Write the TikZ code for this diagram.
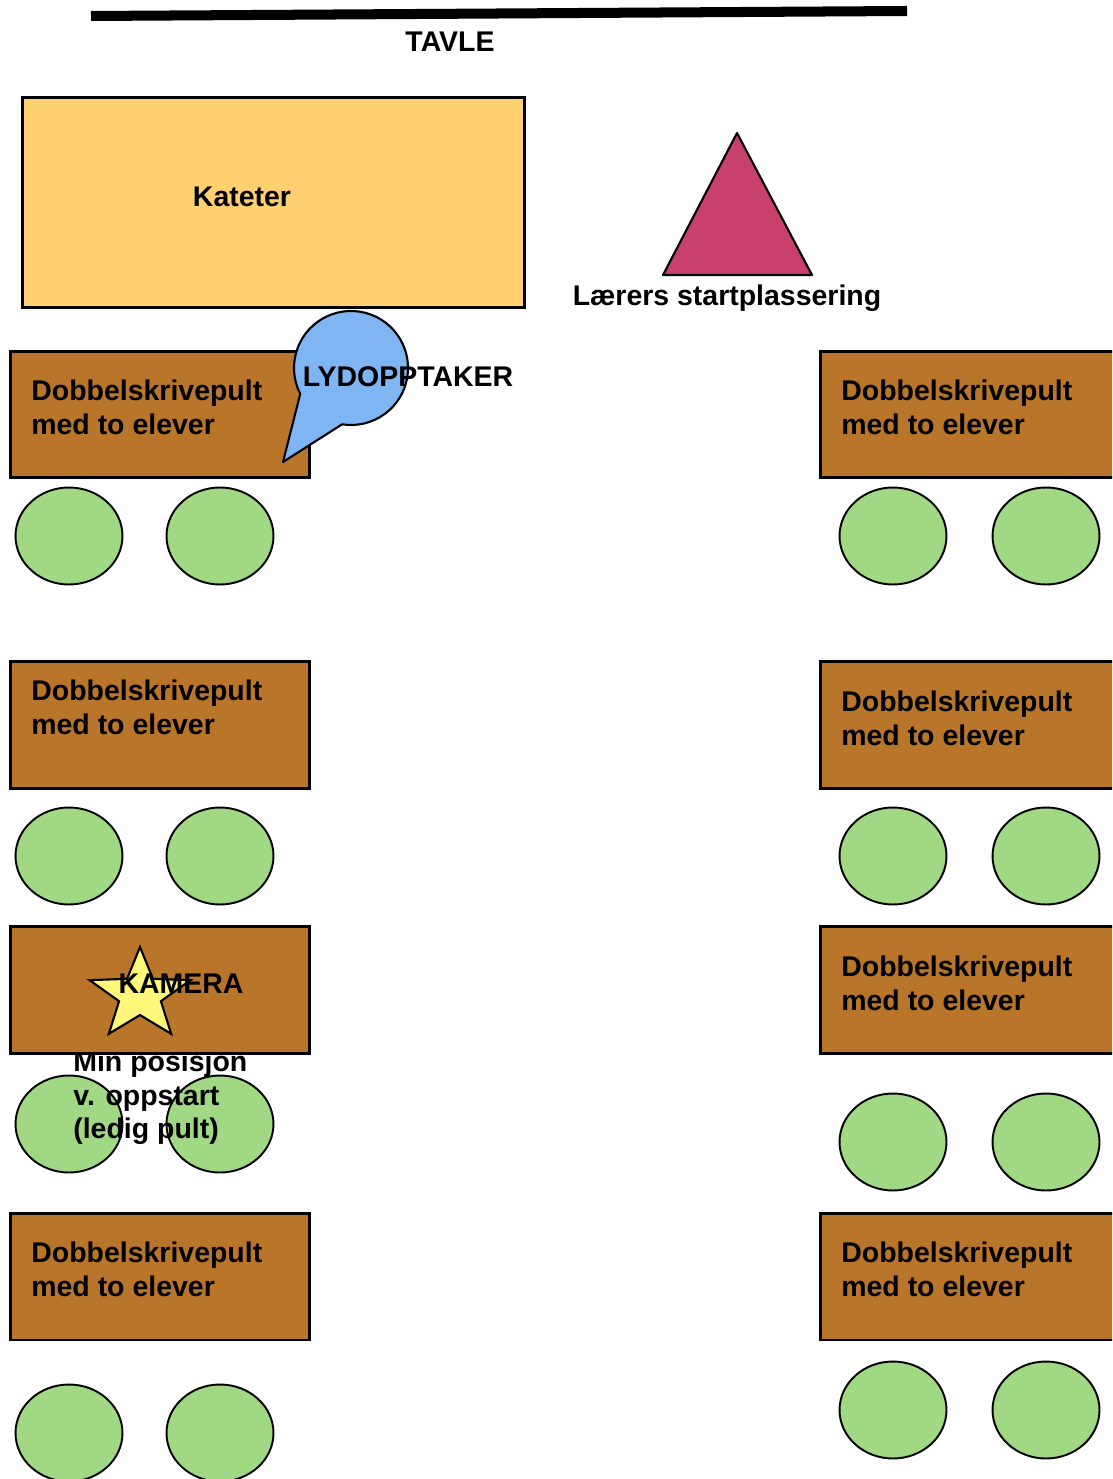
\documentclass[tikz,border=0pt]{standalone}
\usepackage{fontspec}
\setmainfont{Liberation Sans}
\usepackage{tikz}
\usetikzlibrary{shapes.geometric}
\definecolor{kat}{HTML}{FFD06F}
\definecolor{brun}{HTML}{B97529}
\definecolor{gronn}{HTML}{A1D884}
\definecolor{rosa}{HTML}{C8416C}
\definecolor{blaa}{HTML}{7FB5F3}
\definecolor{gul}{HTML}{FFF77A}
\tikzset{
  pult/.style={draw=black,line width=1.7pt,fill=brun,minimum width=6cm,minimum height=2.54cm,inner sep=0pt},
  stol/.style={ellipse,draw=black,line width=1.1pt,fill=gronn,minimum width=2.14cm,minimum height=1.94cm,inner sep=0pt},
  txt/.style={font=\bfseries\fontsize{16.2}{19}\selectfont,inner sep=0pt,align=left},
}

\begin{document}
\begin{tikzpicture}[x=0.02cm,y=-0.02cm]
\useasboundingbox (0,0) rectangle (1112,1479);
\clip (0,0) rectangle (1112,1479);
\draw[line width=5.7pt] (91,16) -- (907,11);
\node[txt] (tavle) at (450,42) {TAVLE};
\node[draw=black,line width=1.7pt,fill=kat,minimum width=10.06cm,minimum height=4.22cm] (kateter) at (273.5,202.5) {};
\node[txt] (katetertxt) at (242,197) {Kateter};
\draw[line width=1.2pt,fill=rosa,line join=round] (737,133) -- (812,275) -- (663,275) -- cycle;
\node[txt] (laerer) at (727,298) {Lærers startplassering};
\foreach \n/\yv/\yh in {1/536/536,2/856/856,3/1124/1142,4/1433/1410} {
  \node[stol] (sVa\n) at (69,\yv) {};
  \node[stol] (sVb\n) at (220,\yv) {};
  \node[stol] (sHa\n) at (893,\yh) {};
  \node[stol] (sHb\n) at (1046,\yh) {};
}
\node[txt,anchor=north west] (minpos) at (73,1051) {Min posisjon\\v. oppstart\\(ledig pult)};
\foreach \n/\y in {1/414.5,2/725,3/990,4/1276.5} {
  \node[pult] (pV\n) at (160,\y) {};
  \node[pult,minimum width=6.4cm] (pH\n) at (980,\y) {};
}
\foreach \nm/\x/\y in {tV1/31/380,tH1/841/380,tV2/31/680,tH2/841/691,tH3/841/956,tV4/31/1242,tH4/841/1242}
  \node[txt,anchor=north west] (\nm) at (\x,\y) {Dobbelskrivepult\\med to elever};
\draw[line width=1.2pt,fill=blaa,line join=round] (283,462) -- (342.1,424.3) arc[start angle=99,end angle=-207,radius=57] -- cycle;
\node[txt] (lyd) at (408,377) {LYDOPPTAKER};
\begin{scope}[shift={(140,995)}]
\draw[line width=1.2pt,fill=gul,line join=miter] (-90:53 and 48) -- (-54:22 and 20) -- (-18:53 and 48) -- (18:22 and 20) -- (54:53 and 48) -- (90:22 and 20) -- (126:53 and 48) -- (162:22 and 20) -- (198:53 and 48) -- (234:22 and 20) -- cycle;
\end{scope}
\node[txt] (kamera) at (181,984) {KAMERA};
\end{tikzpicture}
\end{document}
